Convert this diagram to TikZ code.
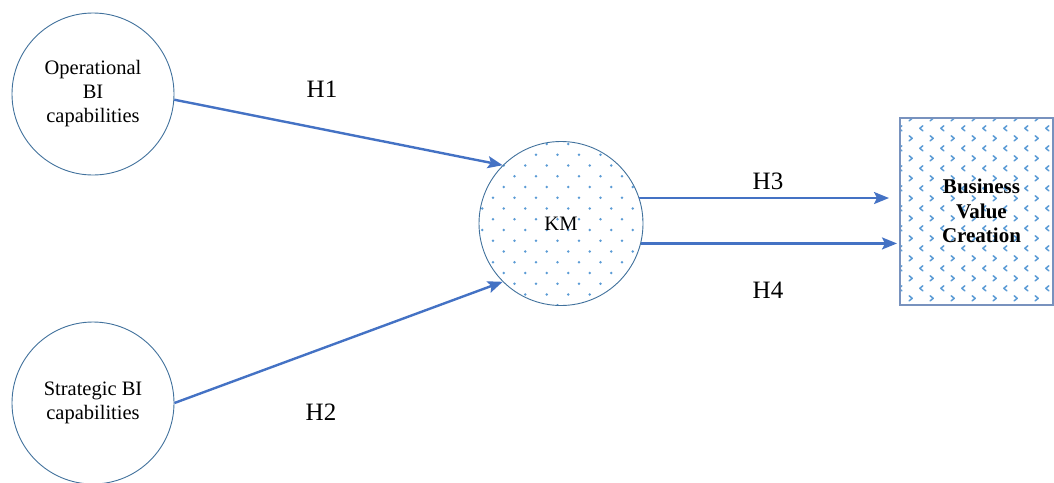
\documentclass[tikz,border=0pt]{standalone}
\usepackage{fontspec}
\setmainfont{Liberation Serif}
\usetikzlibrary{arrows.meta}
\definecolor{outl}{RGB}{65,113,156}
\definecolor{arr}{RGB}{68,114,196}
\definecolor{dotc}{RGB}{91,155,213}
\definecolor{boxb}{RGB}{120,146,190}
\begin{document}
\begin{tikzpicture}[x=1pt,y=-1pt,
  concept/.style={circle, draw=outl, line width=0.9pt, minimum size=162pt, inner sep=0pt,
    align=center, font=\fontsize{20.5}{24}\selectfont},
  boxnode/.style={rectangle, draw=boxb, line width=2pt, minimum width=153pt, minimum height=187pt, inner sep=0pt},
  link/.style={draw=arr, line width=2.4pt, -{Stealth[length=15pt,width=12pt,inset=3pt]}},
  hl/.style={font=\fontsize{25}{30}\selectfont, inner sep=0pt},
  chev/.style={dotc, line width=1.5pt, line cap=round, line join=round}
]
\useasboundingbox (0,0) rectangle (1054,482);

% dot pattern of the KM circle
\begin{scope}
  \clip (561,223.5) circle[radius=82];
  \foreach \j in {0,...,16}{
    \foreach \k in {-5,...,5}{
      \fill[dotc] ({546.7+21.5*\k-10.75*mod(\j+1,2)},{133.25+10.75*\j}) circle[radius=1.35];
    }}
\end{scope}
% chevron pattern of the box
\begin{scope}
  \clip (900,117.5) rectangle (1053,304.5);
  \foreach \j in {0,...,9}{
    \foreach \k in {-1,...,7}{
      \draw[chev, shift={({910.7+21*\k},{118.3+20*\j})}] (-1.5,-2.5) -- (1.5,0) -- (-1.5,2.5);
      \draw[chev, shift={({921.3+21*\k},{128.3+20*\j})}] (1.5,-2.5) -- (-1.5,0) -- (1.5,2.5);
    }}
\end{scope}

\node[concept] (opbi) at (93,94) {Operational\\BI\\capabilities};
\node[concept] (stbi) at (93,403) {Strategic BI\\capabilities};
\node[concept, minimum size=164pt] (km) at (561,223.5) {KM};
\node[boxnode, label={[font=\fontsize{21}{24.5}\selectfont\bfseries, align=center, xshift=5pt]center:{Business\\Value\\Creation}}] (bvc) at (976.5,211) {};

\draw[link] (opbi.-4) -- (km.135);
\draw[link] (stbi.east) -- (km.225);
\draw[link, shorten >=10pt] (km.18) -- (km.18 -| bvc.west);
\draw[link, shorten >=2pt] (km.-14) -- (km.-14 -| bvc.west);

\node[hl] (h1) at (322,89) {H1};
\node[hl] (h2) at (321,412) {H2};
\node[hl] (h3) at (768,181) {H3};
\node[hl] (h4) at (768,290) {H4};
\end{tikzpicture}
\end{document}
